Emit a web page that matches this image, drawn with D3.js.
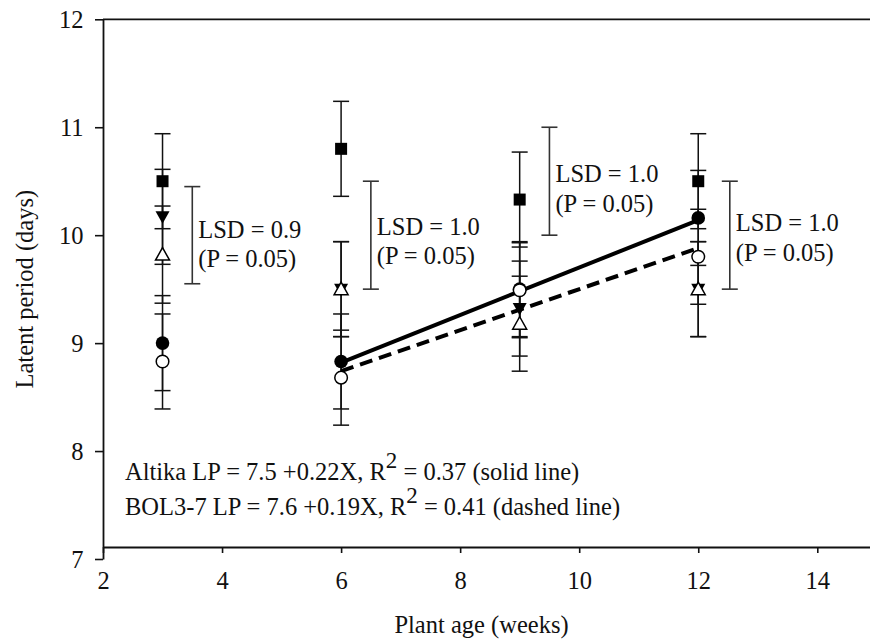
<!DOCTYPE html>
<html>
<head>
<meta charset="utf-8">
<script src="https://cdn.jsdelivr.net/npm/d3@7"></script>
<style>
  html, body { margin: 0; padding: 0; background: #fff; }
  svg { display: block; }
  text { font-family: "Liberation Serif", "Times New Roman", serif; fill: #111; }
</style>
</head>
<body>
<svg id="chart" width="870" height="644"></svg>
<script>
// ---------------- data ----------------
const plantAges = [3, 6, 9, 12];
const xTicks = [2, 4, 6, 8, 10, 12, 14];
const yTicks = [7, 8, 9, 10, 11, 12];

const squareVals       = [10.50, 10.80, 10.33, 10.50];
const downTriangleVals = [10.17, 9.50, 9.32, 9.50];
const upTriangleVals   = [9.82, 9.50, 9.18, 9.50];
const filledCircleVals = [9.00, 8.83, 9.50, 10.16];
const openCircleVals   = [8.83, 8.68, 9.49, 9.80];

const squareErr       = [0.44, 0.44, 0.44, 0.44];
const downTriangleErr = [0.44, 0.44, 0.44, 0.44];
const upTriangleErr   = [0.45, 0.44, 0.44, 0.44];
const filledCircleErr = [0.44, 0.44, 0.44, 0.44];
const openCircleErr   = [0.44, 0.44, 0.44, 0.44];

// regressions (from printed equations)
const fitNames      = ["Altika", "BOL3-7"];
const fitIntercepts = [7.5, 7.6];
const fitSlopes     = [0.22, 0.19];
const fitR2         = ["0.37", "0.41"];
const fitRange      = [6, 12];

// LSD bars: x position (weeks), centre, LSD value, label
const lsdX      = [3.5, 6.5, 9.5, 12.53];
const lsdCentre = [10.0, 10.0, 10.5, 10.0];
const lsdValue  = [0.9, 1.0, 1.0, 1.0];
const lsdLabels = ["LSD = 0.9", "LSD = 1.0", "LSD = 1.0", "LSD = 1.0"];
const lsdPLabel = "(P = 0.05)";

// ---------------- layout ----------------
const svg = d3.select("#chart");
const x = d3.scaleLinear().domain([2, 14]).range([103, 817.3]);
const y = d3.scaleLinear().domain([7, 12]).range([559, 19.3]);
const xAxisY = 547;
const FS = 24.5;

// frame top line
svg.append("line")
  .attr("x1", x(2)).attr("x2", 870)
  .attr("y1", y(12)).attr("y2", y(12))
  .attr("stroke", "#111").attr("stroke-width", 1.8);

// y axis
const yAxis = svg.append("g")
  .attr("transform", `translate(${x(2)},0)`)
  .call(d3.axisLeft(y).tickValues(yTicks).tickFormat(d3.format("d")).tickSize(8).tickSizeOuter(0).tickPadding(4));
yAxis.select(".domain").attr("stroke", "#111").attr("stroke-width", 1.8);
yAxis.selectAll(".tick line").attr("stroke", "#111").attr("stroke-width", 1.6);
yAxis.selectAll(".tick text")
  .attr("font-family", "Liberation Serif").attr("font-size", FS).attr("fill", "#111")
  .attr("x", -19.5).attr("dy", "0.33em");

// x axis
const xAxis = svg.append("g")
  .attr("transform", `translate(0,${xAxisY})`)
  .call(d3.axisBottom(x.copy().domain([2, 15]).range([103, 103 + 13 * (817.3 - 103) / 12]))
    .tickValues(xTicks).tickFormat(d3.format("d")).tickSize(6).tickSizeOuter(0).tickPadding(4));
xAxis.select(".domain").attr("stroke", "#111").attr("stroke-width", 1.8);
xAxis.selectAll(".tick line").attr("stroke", "#111").attr("stroke-width", 1.6);
xAxis.selectAll(".tick text")
  .attr("font-family", "Liberation Serif").attr("font-size", FS).attr("fill", "#111")
  .attr("y", 0).attr("dy", 0)
  .attr("transform", "translate(0,42)");

// axis titles
svg.append("text")
  .attr("x", (x(2) + 870) / 2 - 5).attr("y", 633)
  .attr("text-anchor", "middle").attr("font-size", FS)
  .text("Plant age (weeks)");
svg.append("text")
  .attr("transform", `translate(33,${(y(7) + y(12)) / 2}) rotate(-90)`)
  .attr("text-anchor", "middle").attr("font-size", FS)
  .text("Latent period (days)");

// ---------------- series ----------------
const series = [
  { vals: squareVals,       err: squareErr,       shape: "square" },
  { vals: downTriangleVals, err: downTriangleErr, shape: "downTri" },
  { vals: filledCircleVals, err: filledCircleErr, shape: "filledCircle" },
  { vals: openCircleVals,   err: openCircleErr,   shape: "openCircle" },
  { vals: upTriangleVals,   err: upTriangleErr,   shape: "upTri" }
];

// error bars
const eb = svg.append("g").attr("stroke", "#111").attr("stroke-width", 1.5).attr("fill", "none");
series.forEach(s => {
  plantAges.forEach((a, i) => {
    const v = s.vals[i], e = s.err[i], cx = x(a);
    eb.append("line").attr("x1", cx).attr("x2", cx).attr("y1", y(v + e)).attr("y2", y(v - e));
    eb.append("line").attr("x1", cx - 8).attr("x2", cx + 8).attr("y1", y(v + e)).attr("y2", y(v + e));
    eb.append("line").attr("x1", cx - 8).attr("x2", cx + 8).attr("y1", y(v - e)).attr("y2", y(v - e));
  });
});

// regression lines
const lineGen = d3.line().x(d => x(d[0])).y(d => y(d[1]));
fitNames.forEach((n, k) => {
  const pts = fitRange.map(a => [a, fitIntercepts[k] + fitSlopes[k] * a]);
  svg.append("path")
    .attr("d", lineGen(pts))
    .attr("fill", "none").attr("stroke", "#000").attr("stroke-width", 4)
    .attr("stroke-dasharray", k === 0 ? null : "13,7");
});

// markers
const mk = svg.append("g");
series.forEach(s => {
  plantAges.forEach((a, i) => {
    const cx = x(a), cy = y(s.vals[i]);
    if (s.shape === "square") {
      mk.append("rect").attr("x", cx - 6).attr("y", cy - 6).attr("width", 12).attr("height", 12).attr("fill", "#000");
    } else if (s.shape === "filledCircle") {
      mk.append("circle").attr("cx", cx).attr("cy", cy).attr("r", 6.8).attr("fill", "#000");
    } else if (s.shape === "openCircle") {
      mk.append("circle").attr("cx", cx).attr("cy", cy).attr("r", 6.3).attr("fill", "#fff").attr("stroke", "#000").attr("stroke-width", 1.5);
    } else if (s.shape === "downTri") {
      mk.append("path").attr("d", `M${cx - 7},${cy - 5.5}L${cx + 7},${cy - 5.5}L${cx},${cy + 7}Z`).attr("fill", "#000");
    } else if (s.shape === "upTri") {
      mk.append("path").attr("d", `M${cx - 7},${cy + 5.5}L${cx + 7},${cy + 5.5}L${cx},${cy - 7}Z`)
        .attr("fill", "#fff").attr("stroke", "#000").attr("stroke-width", 1.5);
    }
  });
});

// LSD bars
const lsdTextY = [[238, 267], [235, 264], [182, 212], [231, 261]];
lsdX.forEach((lx, i) => {
  const cx = x(lx);
  const top = y(lsdCentre[i] + lsdValue[i] / 2), bot = y(lsdCentre[i] - lsdValue[i] / 2);
  const g = svg.append("g").attr("stroke", "#333").attr("stroke-width", 1.6);
  g.append("line").attr("x1", cx).attr("x2", cx).attr("y1", top).attr("y2", bot);
  g.append("line").attr("x1", cx - 8).attr("x2", cx + 8).attr("y1", top).attr("y2", top);
  g.append("line").attr("x1", cx - 8).attr("x2", cx + 8).attr("y1", bot).attr("y2", bot);
  svg.append("text").attr("x", cx + 6).attr("y", lsdTextY[i][0]).attr("font-size", FS).text(lsdLabels[i]);
  svg.append("text").attr("x", cx + 6).attr("y", lsdTextY[i][1]).attr("font-size", FS).text(lsdPLabel);
});

// equation texts
const eqPost = [" (solid line)", " (dashed line)"];
const eqY = [480, 515];
fitNames.forEach((n, k) => {
  const t = svg.append("text").attr("x", 125).attr("y", eqY[k]).attr("font-size", FS);
  t.append("tspan").text(`${n} LP = ${fitIntercepts[k]} +${fitSlopes[k]}X, R`);
  t.append("tspan").attr("dy", -12).attr("font-size", 23).text("2");
  t.append("tspan").attr("dy", 12).text(` = ${fitR2[k]}${eqPost[k]}`);
});
</script>
</body>
</html>
